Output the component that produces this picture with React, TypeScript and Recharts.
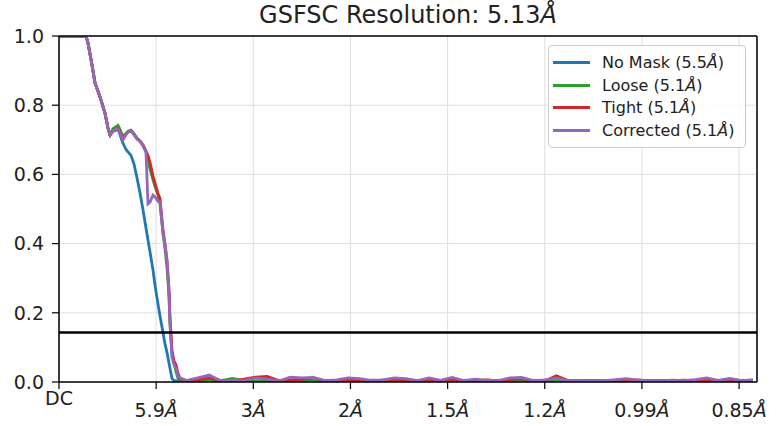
import React from "react";
import {
  LineChart,
  Line,
  XAxis,
  YAxis,
  CartesianGrid,
  ReferenceLine,
} from "recharts";

// spatial frequency (1/Å)
const freq = [
  0, 0.0467, 0.0501, 0.0571, 0.0623, 0.0709, 0.0795, 0.0847, 0.0882, 0.0934,
  0.0986, 0.102, 0.1054, 0.1089, 0.1107, 0.1159, 0.1193, 0.1245, 0.1297,
  0.1349, 0.1401, 0.1453, 0.1504, 0.1539, 0.1574, 0.1625, 0.166, 0.1712,
  0.1747, 0.1798, 0.1833, 0.1868, 0.1902, 0.1919, 0.1954, 0.1989, 0.2023,
  0.2058, 0.2092,
  0.22, 0.24, 0.26, 0.28, 0.3, 0.32, 0.34, 0.36, 0.38, 0.4, 0.42, 0.44, 0.46,
  0.48, 0.5, 0.52, 0.54, 0.56, 0.58, 0.6, 0.62, 0.64, 0.66, 0.68, 0.7, 0.72,
  0.74, 0.76, 0.78, 0.8, 0.82, 0.84, 0.86, 0.88, 0.9, 0.92, 0.94, 0.96, 0.98,
  1.0, 1.02, 1.04, 1.06, 1.08, 1.1, 1.12, 1.14, 1.16, 1.18, 1.2,
];

const noMask = [
  1.0, 1.0, 0.98, 0.916, 0.864, 0.824, 0.777, 0.734, 0.714, 0.725,
  0.728, 0.731, 0.715, 0.698, 0.69, 0.672, 0.665, 0.655, 0.63, 0.59,
  0.546, 0.497, 0.445, 0.41, 0.376, 0.324, 0.28, 0.225, 0.19, 0.143,
  0.11, 0.085, 0.055, 0.04, 0.01, 0.004, 0.003, 0.002, 0.003,
  0.002, 0.003, 0.002, 0.004, 0.002, 0.003, 0.002, 0.003, 0.004, 0.002,
  0.003, 0.002, 0.003, 0.002, 0.004, 0.002, 0.003, 0.002, 0.003, 0.002,
  0.003, 0.004, 0.002, 0.003, 0.002, 0.003, 0.002, 0.003, 0.002, 0.004,
  0.002, 0.003, 0.002, 0.003, 0.002, 0.003, 0.002, 0.004, 0.002, 0.003,
  0.002, 0.003, 0.002, 0.003, 0.002, 0.004, 0.002, 0.003, 0.002, 0.003,
];

const loose = [
  1.0, 1.0, 0.98, 0.916, 0.864, 0.824, 0.777, 0.734, 0.714, 0.732,
  0.738, 0.742, 0.73, 0.715, 0.712, 0.718, 0.725, 0.728, 0.718, 0.705,
  0.697, 0.685, 0.665, 0.645, 0.615, 0.585, 0.565, 0.54, 0.515, 0.43,
  0.385, 0.33, 0.25, 0.17, 0.08, 0.055, 0.03, 0.01, 0.005,
  0.003, 0.004, 0.006, 0.004, 0.01, 0.004, 0.003, 0.004, 0.003, 0.004,
  0.006, 0.004, 0.003, 0.004, 0.003, 0.004, 0.003, 0.004, 0.003, 0.004,
  0.003, 0.004, 0.003, 0.004, 0.003, 0.004, 0.003, 0.004, 0.005, 0.003,
  0.004, 0.003, 0.004, 0.003, 0.004, 0.003, 0.004, 0.003, 0.004, 0.003,
  0.004, 0.003, 0.004, 0.003, 0.004, 0.003, 0.004, 0.003, 0.004, 0.003,
];

const tight = [
  1.0, 1.0, 0.98, 0.916, 0.864, 0.824, 0.777, 0.734, 0.714, 0.725,
  0.728, 0.733, 0.722, 0.707, 0.702, 0.716, 0.723, 0.726, 0.716, 0.703,
  0.696, 0.684, 0.668, 0.655, 0.635, 0.595, 0.575, 0.545, 0.53, 0.44,
  0.4, 0.35, 0.27, 0.19, 0.09, 0.06, 0.05, 0.025, 0.01,
  0.004, 0.006, 0.012, 0.004, 0.003, 0.008, 0.014, 0.016, 0.004, 0.006,
  0.008, 0.012, 0.003, 0.004, 0.006, 0.004, 0.003, 0.005, 0.006, 0.004,
  0.003, 0.008, 0.004, 0.006, 0.003, 0.004, 0.006, 0.003, 0.008, 0.01,
  0.004, 0.003, 0.018, 0.004, 0.003, 0.004, 0.003, 0.005, 0.004, 0.006,
  0.003, 0.004, 0.003, 0.005, 0.004, 0.006, 0.004, 0.008, 0.004, 0.005,
];

const corrected = [
  1.0, 1.0, 0.98, 0.916, 0.864, 0.824, 0.777, 0.734, 0.714, 0.725,
  0.728, 0.731, 0.72, 0.705, 0.7, 0.715, 0.722, 0.725, 0.715, 0.702,
  0.695, 0.682, 0.665, 0.515, 0.52, 0.54, 0.535, 0.522, 0.52, 0.431,
  0.396, 0.35, 0.255, 0.17, 0.07, 0.05, 0.04, 0.017, 0.012,
  0.004, 0.012, 0.02, 0.003, 0.005, 0.004, 0.012, 0.008, 0.003, 0.014,
  0.012, 0.013, 0.004, 0.006, 0.012, 0.01, 0.005, 0.006, 0.012, 0.01,
  0.004, 0.012, 0.005, 0.013, 0.004, 0.008, 0.005, 0.004, 0.012, 0.013,
  0.004, 0.006, 0.012, 0.003, 0.004, 0.003, 0.004, 0.006, 0.01, 0.006,
  0.003, 0.003, 0.005, 0.004, 0.007, 0.012, 0.005, 0.01, 0.004, 0.006,
];

const xTicks = [0, 0.168, 0.336, 0.504, 0.672, 0.84, 1.008, 1.176];
const xTickLabels = ["DC", "5.9Å", "3Å", "2Å", "1.5Å", "1.2Å", "0.99Å", "0.85Å"];
const yTicks = [0, 0.2, 0.4, 0.6, 0.8, 1.0];
const threshold = 0.143;
const xMax = 1.207;

const seriesNames = ["No Mask (5.5Å)", "Loose (5.1Å)", "Tight (5.1Å)", "Corrected (5.1Å)"];
const seriesKeys = ["noMask", "loose", "tight", "corrected"];
const seriesColors = ["#1f77b4", "#2ca02c", "#d62728", "#9467bd"];

const data = freq.map((f, i) => ({
  f,
  noMask: noMask[i],
  loose: loose[i],
  tight: tight[i],
  corrected: corrected[i],
}));

const FONT = "DejaVu Sans";
const TEXT = "#222";

// label with a trailing italic Å, like matplotlib mathtext
const withAngstrom = (label: string) =>
  label.endsWith("Å") ? (
    <>
      {label.slice(0, -1)}
      <tspan fontStyle="italic">Å</tspan>
    </>
  ) : (
    label
  );

const XTick = (props: any) => {
  const { x, y, payload } = props;
  const idx = xTicks.indexOf(payload.value);
  const label = idx >= 0 ? xTickLabels[idx] : "";
  // mathtext labels sit lower because of the ring above the Å
  const shift = label.endsWith("Å") ? 12 : 0;
  return (
    <text
      x={x}
      y={y + shift}
      dy="0.71em"
      textAnchor="middle"
      fontSize={19}
      fontFamily={FONT}
      fill={TEXT}
    >
      {withAngstrom(label)}
    </text>
  );
};

const htmlAngstrom = (label: string) =>
  label.endsWith("Å)") ? (
    <>
      {label.slice(0, -2)}
      <i>Å</i>)
    </>
  ) : (
    label
  );

export default function App() {
  return (
    <div
      style={{
        position: "absolute",
        left: 0,
        top: 0,
        width: 784,
        height: 426,
        background: "#fff",
        fontFamily: FONT,
      }}
    >
      <div
        style={{
          position: "absolute",
          left: 208,
          top: 3,
          width: 400,
          textAlign: "center",
          fontSize: 24,
          lineHeight: "24px",
          color: TEXT,
          whiteSpace: "nowrap",
        }}
      >
        GSFSC Resolution: 5.13<i>Å</i>
      </div>
      <LineChart
        width={784}
        height={426}
        data={data}
        margin={{ top: 36, right: 27, left: 0, bottom: 0 }}
      >
        <CartesianGrid stroke="#dedede" strokeWidth={1} />
        <XAxis
          dataKey="f"
          type="number"
          domain={[0, xMax]}
          ticks={xTicks}
          interval={0}
          height={44}
          tickSize={7}
          tickMargin={3}
          tick={<XTick />}
          axisLine={{ stroke: "#000", strokeWidth: 1.5 }}
          tickLine={{ stroke: "#000", strokeWidth: 1.2 }}
          allowDataOverflow
        />
        <YAxis
          type="number"
          domain={[0, 1]}
          ticks={yTicks}
          width={59}
          tickSize={7}
          tickMargin={8}
          tickFormatter={(v: number) => v.toFixed(1)}
          tick={{ fontSize: 19, fontFamily: FONT, fill: TEXT }}
          axisLine={{ stroke: "#000", strokeWidth: 1.5 }}
          tickLine={{ stroke: "#000", strokeWidth: 1.2 }}
          allowDataOverflow
        />
        {seriesKeys.map((k, i) => (
          <Line
            key={k}
            dataKey={k}
            type="linear"
            stroke={seriesColors[i]}
            strokeWidth={2.8}
            dot={false}
            isAnimationActive={false}
          />
        ))}
        <ReferenceLine y={threshold} stroke="#000" strokeWidth={2.5} />
        <ReferenceLine y={1} stroke="#000" strokeWidth={1.5} />
        <ReferenceLine x={xMax} stroke="#000" strokeWidth={1.5} />
      </LineChart>
      <div
        style={{
          position: "absolute",
          left: 548,
          top: 45,
          width: 198,
          height: 103,
          border: "1px solid #cccccc",
          borderRadius: 4,
          background: "rgba(255,255,255,0.8)",
          paddingTop: 5,
          boxSizing: "border-box",
        }}
      >
        {seriesNames.map((name, i) => (
          <div
            key={name}
            style={{
              display: "flex",
              alignItems: "center",
              height: 22.7,
              fontSize: 16,
              color: TEXT,
              whiteSpace: "nowrap",
            }}
          >
            <div
              style={{
                marginLeft: 4,
                width: 37,
                height: 3,
                background: seriesColors[i],
              }}
            />
            <span style={{ marginLeft: 12 }}>{htmlAngstrom(name)}</span>
          </div>
        ))}
      </div>
    </div>
  );
}
